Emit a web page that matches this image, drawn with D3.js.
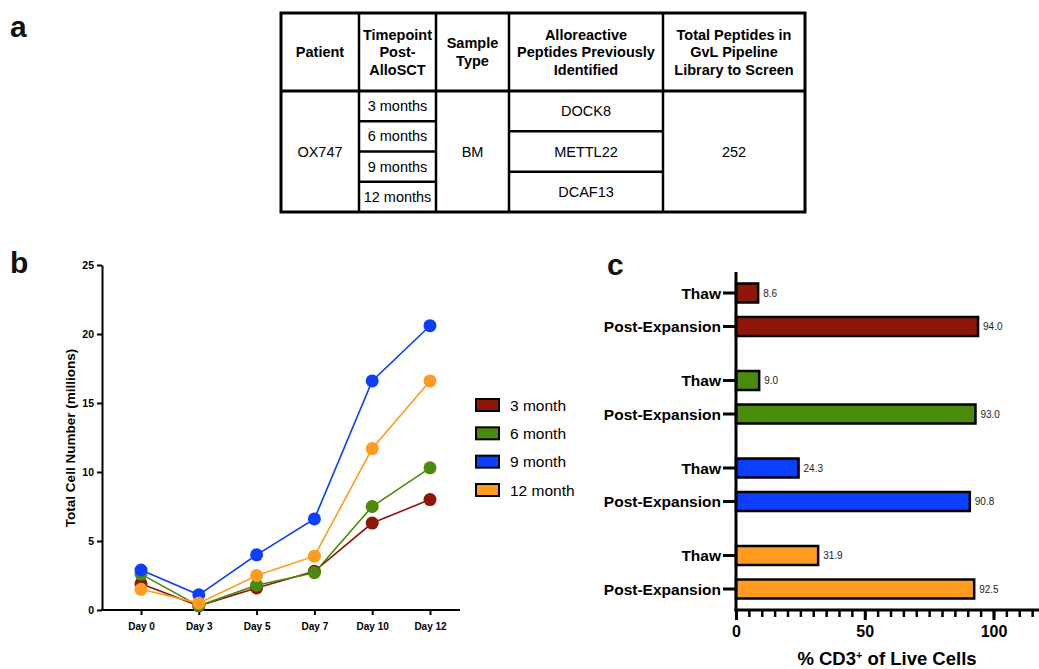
<!DOCTYPE html>
<html><head><meta charset="utf-8">
<script src="https://cdn.jsdelivr.net/npm/d3@7"></script>
<style>
html,body{margin:0;padding:0;background:#fff;}
svg{display:block;font-family:"Liberation Sans",Arial,Helvetica,sans-serif;}
</style></head>
<body><svg id="chart" width="1039" height="669"></svg>
<script>
// ---------- DATA ----------
const tableHeaders = [["Patient"],["Timepoint","Post-","AlloSCT"],["Sample","Type"],["Alloreactive","Peptides Previously","Identified"],["Total Peptides in","GvL Pipeline","Library to Screen"]];
const patient = "OX747";
const timepoints = ["3 months","6 months","9 months","12 months"];
const sampleType = "BM";
const peptides = ["DOCK8","METTL22","DCAF13"];
const totalPeptides = "252";

const days = ["Day 0","Day 3","Day 5","Day 7","Day 10","Day 12"];
const seriesNames = ["3 month","6 month","9 month","12 month"];
const month3 = [1.9,0.3,1.6,2.8,6.3,8.0];
const month6 = [2.6,0.3,1.8,2.7,7.5,10.3];
const month9 = [2.9,1.1,4.0,6.6,16.6,20.6];
const month12 = [1.5,0.5,2.5,3.9,11.7,16.6];
const yTicksB = [0,5,10,15,20,25];
const colors = ["#8E1607","#4B8A0B","#0B3EFF","#FF9B21"];

const conditions = ["Thaw","Post-Expansion"];
const thawCD3 = [8.6,9.0,24.3,31.9];
const postCD3 = [94.0,93.0,90.8,92.5];
const xTicksC = [0,50,100];

// ---------- SETUP ----------
const svg = d3.select("#chart");
svg.append("rect").attr("width",1039).attr("height",669).attr("fill","#fff");

// panel letters
[["a",10,37],["b",10,273],["c",607,275]].forEach(([t,x,y])=>{
  svg.append("text").attr("x",x).attr("y",y).attr("font-size",30).attr("font-weight","bold").attr("fill","#111").text(t);
});

// ---------- PANEL A: TABLE ----------
{
  const g = svg.append("g");
  const colX = [281,359,436,509,663,805];
  const top = 13, headBottom = 91, bottom = 212;
  const tpRow = d3.scaleBand().domain(timepoints).range([headBottom,bottom]);
  const pepRow = d3.scaleBand().domain(peptides).range([headBottom,bottom]);
  const line = (x1,y1,x2,y2,w)=>g.append("line").attr("x1",x1).attr("y1",y1).attr("x2",x2).attr("y2",y2).attr("stroke","#000").attr("stroke-width",w||2.5);
  g.append("rect").attr("x",colX[0]).attr("y",top).attr("width",colX[5]-colX[0]).attr("height",bottom-top).attr("fill","none").attr("stroke","#000").attr("stroke-width",3);
  colX.slice(1,5).forEach(x=>line(x,top,x,bottom));
  line(colX[0],headBottom,colX[5],headBottom,3);
  timepoints.slice(1).forEach(t=>line(colX[1],tpRow(t),colX[2],tpRow(t)));
  peptides.slice(1).forEach(p=>line(colX[3],pepRow(p),colX[4],pepRow(p)));
  tableHeaders.forEach((lines,i)=>{
    const cx=(colX[i]+colX[i+1])/2, cy=(top+headBottom)/2;
    const lh=17.5;
    const t=g.append("text").attr("text-anchor","middle").attr("font-size",14.5).attr("font-weight","bold").attr("fill","#000");
    lines.forEach((s,j)=>{
      t.append("tspan").attr("x",cx).attr("y",cy+(j-(lines.length-1)/2)*lh).attr("dominant-baseline","central").text(s);
    });
  });
  const cell=(txt,cx,cy)=>g.append("text").attr("x",cx).attr("y",cy).attr("text-anchor","middle").attr("dominant-baseline","central").attr("font-size",14.5).attr("fill","#000").text(txt);
  const midY=(headBottom+bottom)/2;
  cell(patient,(colX[0]+colX[1])/2,midY);
  timepoints.forEach(t=>cell(t,(colX[1]+colX[2])/2,tpRow(t)+tpRow.bandwidth()/2));
  cell(sampleType,(colX[2]+colX[3])/2,midY);
  peptides.forEach(p=>cell(p,(colX[3]+colX[4])/2,pepRow(p)+pepRow.bandwidth()/2));
  cell(totalPeptides,(colX[4]+colX[5])/2,midY);
}

// ---------- PANEL B: LINE CHART ----------
{
  const g = svg.append("g");
  const x = d3.scalePoint().domain(days).range([141,430]);
  const y = d3.scaleLinear().domain([0,25]).range([610,265]);
  const allSeries = [month3,month6,month9,month12];
  const ya = g.append("g").attr("transform","translate(102,0)").call(d3.axisLeft(y).tickValues(yTicksB).tickSize(5).tickSizeOuter(0));
  ya.select(".domain").attr("stroke-width",2);
  ya.selectAll(".tick line").attr("stroke-width",2);
  ya.selectAll(".tick text").attr("font-size",10.5).attr("font-weight","bold").attr("font-family","Liberation Sans, Arial, sans-serif").attr("fill","#000").attr("x",-8);
  const xa = g.append("g").attr("transform","translate(0,610)").call(d3.axisBottom(x).tickSize(5).tickSizeOuter(0));
  xa.select(".domain").remove();
  g.append("line").attr("x1",101).attr("x2",460).attr("y1",610).attr("y2",610).attr("stroke","#000").attr("stroke-width",2);
  xa.selectAll(".tick line").attr("stroke-width",2);
  xa.selectAll(".tick text").attr("font-size",10).attr("font-weight","bold").attr("font-family","Liberation Sans, Arial, sans-serif").attr("fill","#000").attr("y",13);
  g.append("text").attr("transform","translate(75,438) rotate(-90)").attr("text-anchor","middle").attr("font-size",13.5).attr("font-weight","bold").text("Total Cell Number (millions)");
  const lineGen = d3.line().x((d,i)=>x(days[i])).y(d=>y(d));
  allSeries.forEach((s,k)=>{
    g.append("path").datum(s).attr("d",lineGen).attr("fill","none").attr("stroke",colors[k]).attr("stroke-width",1.6);
  });
  allSeries.forEach((s,k)=>{
    g.selectAll(null).data(s).enter().append("circle").attr("cx",(d,i)=>x(days[i])).attr("cy",d=>y(d)).attr("r",6.5).attr("fill",colors[k]);
  });
  const ly = d3.scalePoint().domain(seriesNames).range([405,490]);
  seriesNames.forEach((n,k)=>{
    g.append("rect").attr("x",476).attr("y",ly(n)-6).attr("width",23).attr("height",12).attr("fill",colors[k]).attr("stroke","#000").attr("stroke-width",2);
    g.append("text").attr("x",510).attr("y",ly(n)).attr("dominant-baseline","central").attr("font-size",15.5).attr("fill","#000").text(n);
  });
}

// ---------- PANEL C: HORIZONTAL BARS ----------
{
  const g = svg.append("g");
  const x = d3.scaleLinear().domain([0,120]).range([736,1045]);
  const gy = d3.scaleBand().domain(seriesNames).range([266,616]);
  const iy = d3.scalePoint().domain(conditions).range([-16.75,16.75]);
  const barH = 19;
  const rows = [];
  seriesNames.forEach((n,k)=>{
    rows.push({group:n,cond:conditions[0],v:thawCD3[k],c:colors[k]});
    rows.push({group:n,cond:conditions[1],v:postCD3[k],c:colors[k]});
  });
  const cy = d=>gy(d.group)+gy.bandwidth()/2+iy(d.cond);
  g.selectAll(".bar").data(rows).enter().append("rect")
    .attr("x",x(0)).attr("y",d=>cy(d)-barH/2).attr("width",d=>x(d.v)-x(0)).attr("height",barH)
    .attr("fill",d=>d.c).attr("stroke","#000").attr("stroke-width",2.5);
  g.selectAll(".val").data(rows).enter().append("text")
    .attr("x",d=>x(d.v)+5).attr("y",d=>cy(d)).attr("dominant-baseline","central").attr("font-size",10).attr("fill","#222").text(d=>d.v.toFixed(1));
  g.selectAll(".ct").data(rows).enter().append("line")
    .attr("x1",723).attr("x2",736).attr("y1",cy).attr("y2",cy).attr("stroke","#000").attr("stroke-width",3);
  g.selectAll(".cl").data(rows).enter().append("text")
    .attr("x",721).attr("y",cy).attr("text-anchor","end").attr("dominant-baseline","central")
    .attr("font-size",15.5).attr("font-weight","bold").attr("fill","#000").text(d=>d.cond);
  g.append("line").attr("x1",736).attr("x2",736).attr("y1",272).attr("y2",611.5).attr("stroke","#000").attr("stroke-width",3);
  const minor = d3.range(0,121,5);
  const xa = g.append("g").attr("transform","translate(0,610)").call(d3.axisBottom(x).tickValues(minor).tickSize(7).tickSizeOuter(0).tickFormat(""));
  xa.select(".domain").remove();
  xa.selectAll(".tick line").attr("stroke-width",2.5);
  const xb = g.append("g").attr("transform","translate(0,610)").call(d3.axisBottom(x).tickValues(xTicksC).tickSize(10).tickSizeOuter(0));
  xb.select(".domain").remove();
  xb.selectAll(".tick line").attr("stroke-width",3);
  xb.selectAll(".tick text").attr("font-size",16).attr("font-weight","bold").attr("font-family","Liberation Sans, Arial, sans-serif").attr("fill","#000").attr("y",16);
  g.append("line").attr("x1",734.5).attr("x2",1045).attr("y1",610).attr("y2",610).attr("stroke","#000").attr("stroke-width",3);
  const t = g.append("text").attr("x",887).attr("y",665).attr("text-anchor","middle").attr("font-size",18.5).attr("font-weight","bold").attr("fill","#000");
  t.append("tspan").text("% CD3");
  t.append("tspan").attr("baseline-shift","super").attr("font-size",11).text("+");
  t.append("tspan").text(" of Live Cells");
}
</script></body></html>
